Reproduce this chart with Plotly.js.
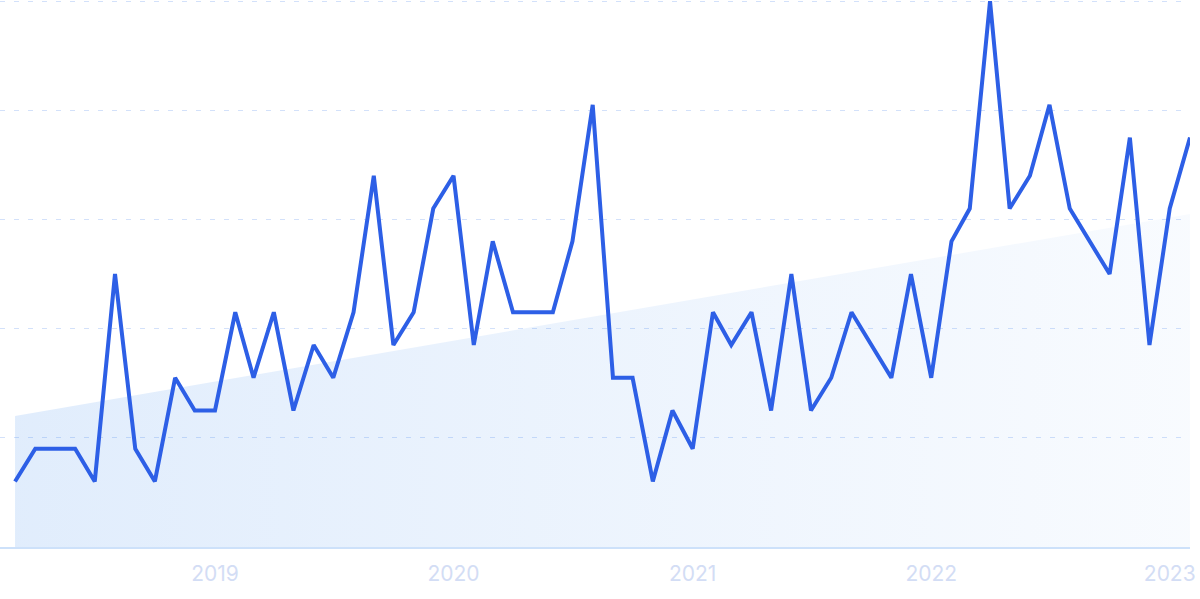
<!DOCTYPE html>
<html>
<head>
<meta charset="utf-8">
<script src="https://cdn.plot.ly/plotly-3.0.1.min.js"></script>
<style>
  html, body { margin: 0; padding: 0; background: #ffffff; }
  #chart { width: 1200px; height: 599px; }
</style>
</head>
<body>
<div id="chart"></div>
<script>
// Monthly interest values (Mar 2018 – Feb 2023)
const months = [
  '2018-03-01','2018-04-01','2018-05-01','2018-06-01','2018-07-01','2018-08-01','2018-09-01','2018-10-01','2018-11-01','2018-12-01',
  '2019-01-01','2019-02-01','2019-03-01','2019-04-01','2019-05-01','2019-06-01','2019-07-01','2019-08-01','2019-09-01','2019-10-01','2019-11-01','2019-12-01',
  '2020-01-01','2020-02-01','2020-03-01','2020-04-01','2020-05-01','2020-06-01','2020-07-01','2020-08-01','2020-09-01','2020-10-01','2020-11-01','2020-12-01',
  '2021-01-01','2021-02-01','2021-03-01','2021-04-01','2021-05-01','2021-06-01','2021-07-01','2021-08-01','2021-09-01','2021-10-01','2021-11-01','2021-12-01',
  '2022-01-01','2022-02-01','2022-03-01','2022-04-01','2022-05-01','2022-06-01','2022-07-01','2022-08-01','2022-09-01','2022-10-01','2022-11-01','2022-12-01',
  '2023-01-01','2023-02-01'
];
const interest = [
  12, 18, 18, 18, 12, 50, 18, 12, 31, 25,
  25, 43, 31, 43, 25, 37, 31, 43, 68, 37, 43, 62,
  68, 37, 56, 43, 43, 43, 56, 81, 31, 31, 12, 25,
  18, 43, 37, 43, 25, 50, 25, 31, 43, 37, 31, 50,
  31, 56, 62, 100, 62, 68, 81, 62, 56, 50, 75, 37,
  62, 75
];
// Trend line end points (read from the shaded area)
const trendX = ['2018-03-01', '2023-02-01'];
const trendY = [24, 61];
// Axis ticks
const tickDates = ['2019-01-01', '2020-01-01', '2021-01-01', '2022-01-01', '2023-01-01'];
const tickLabels = ['2019', '2020', '2021', '2022', '2023'];
const gridVals = [0, 20, 40, 60, 80, 100];

const trendTrace = {
  x: trendX,
  y: trendY,
  type: 'scatter',
  mode: 'lines',
  line: { width: 0, color: 'rgba(0,0,0,0)' },
  fill: 'tozeroy',
  fillgradient: {
    type: 'horizontal',
    colorscale: [[0, 'rgba(30,120,235,0.135)'], [1, 'rgba(30,120,235,0.03)']]
  },
  hoverinfo: 'skip',
  showlegend: false
};

const lineTrace = {
  x: months,
  y: interest,
  type: 'scatter',
  mode: 'lines',
  line: { color: '#2d5fe6', width: 4, shape: 'linear' },
  showlegend: false
};

const layout = {
  width: 1200,
  height: 599,
  margin: { l: 0, r: 10, t: 0, b: 52 },
  paper_bgcolor: '#ffffff',
  plot_bgcolor: '#ffffff',
  showlegend: false,
  xaxis: {
    type: 'date',
    range: ['2018-02-06', '2023-02-01'],
    tickvals: tickDates,
    ticktext: tickLabels,
    ticks: '',
    showgrid: false,
    zeroline: false,
    showline: true,
    linecolor: '#cde1fa',
    linewidth: 2,
    ticklabelstandoff: 7,
    tickfont: { family: 'Inter, Arial, sans-serif', size: 21, color: '#d3ddf5' },
    fixedrange: true
  },
  yaxis: {
    range: [0, 100.2],
    tickvals: gridVals,
    showticklabels: false,
    ticks: '',
    showgrid: true,
    gridcolor: '#d3e1fa',
    gridwidth: 1,
    griddash: '5px,9px',
    zeroline: false,
    showline: false,
    fixedrange: true
  }
};

Plotly.newPlot('chart', [trendTrace, lineTrace], layout, { displayModeBar: false, staticPlot: true });
</script>
</body>
</html>
